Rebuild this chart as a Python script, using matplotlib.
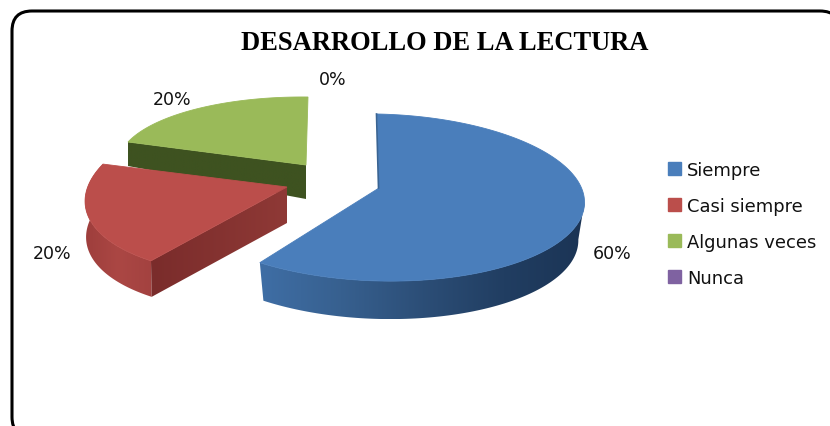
import numpy as np
import matplotlib
matplotlib.use('Agg')
import matplotlib.pyplot as plt
from matplotlib.patches import Polygon, Patch, FancyBboxPatch
from matplotlib.colors import LinearSegmentedColormap

categories = ['Siempre', 'Casi siempre', 'Algunas veces', 'Nunca']
values = [60, 20, 20, 0]
value_labels = ['60%', '20%', '20%', '0%']
title = 'DESARROLLO DE LA LECTURA'

top_colors = ['#4a7ebb', '#bb4e4b', '#9aba59', '#7f62a1']

# slice geometry in pixels, one entry per slice
# apex, ellipse offset from apex, radii, skew, wall height
apex = [(379, 189), (287, 188), (306, 166), (300, 170)]
centre_off = [(0, 9.5), (0, 0), (0, 0), (0, 0)]
radius = [(205.5, 83.5), (200.7, 88), (187.8, 68), (180, 70)]
skew = [(-2, 4), (22.3, -4.5), (2, 2.1), (0, 0)]
wall_h = [38, 36, 34, 0]
wall_tilt = [0, 0, 0.056, 0]
wall_scale = [0.97, 0.995, 1.0, 1.0]
# wall colours, left to right on the page
arc_shade = [['#3f6ea5', '#37608f', '#2c4e77', '#213e62', '#1b3455'],
             ['#9e3e3c', '#ab4744', '#a34240'], None, None]
cut_shade = [None, ['#7a2c2b', '#8f3936'], ['#3e5220', '#3e5220'], None]
label_pos = [(612, 254), (52, 254), (172, 100), (333, 80)]


def top_pt(i, th):
    a, b = radius[i]
    s, t = skew[i]
    x = a * np.sin(th) + s * np.cos(th) + centre_off[i][0]
    y = -b * np.cos(th) + t * np.sin(th) + centre_off[i][1]
    return x, y


def low_pt(i, x, y):
    return x * wall_scale[i], y + wall_h[i] + wall_tilt[i] * x


def shaded(pts, colors, z):
    # horizontal gradient clipped to a polygon
    pts = np.array(pts)
    cmap = LinearSegmentedColormap.from_list('wall', colors)
    x0, x1 = pts[:, 0].min(), pts[:, 0].max()
    y0, y1 = pts[:, 1].min(), pts[:, 1].max()
    im = ax.imshow(np.linspace(0, 1, 256)[None, :], cmap=cmap, extent=(x0, x1, y1, y0),
                   aspect='auto', zorder=z)
    clip = Polygon(pts, transform=ax.transData, fc='none', ec='none')
    ax.add_patch(clip)
    im.set_clip_path(clip)


fig = plt.figure(figsize=(8.30, 4.27), dpi=100)
ax = fig.add_axes([0, 0, 1, 1])
ax.axis('off')

ax.add_patch(FancyBboxPatch((12, 12), 828, 426, boxstyle='round,pad=0,rounding_size=20',
                            fc='white', ec='black', lw=2.2, zorder=0))

total = sum(values)
fracs = np.cumsum([0] + values) / total * 2 * np.pi

for i in [2, 1, 0]:
    th0, th1 = fracs[i], fracs[i + 1]
    ax0, ay0 = apex[i]
    z = 3 - i
    ths = np.linspace(th0, th1, 241)
    xs, ys = top_pt(i, ths)

    # outer wall, only the part that faces the viewer
    if arc_shade[i] is not None:
        keep = (np.cos(ths) < 0.0) | (i == 1)
        vx, vy = xs[keep], ys[keep]
        lx, ly = low_pt(i, vx, vy)
        pts = list(zip(ax0 + vx, ay0 + vy)) + list(zip(ax0 + lx, ay0 + ly))[::-1]
        shaded(pts, arc_shade[i], z)

    # cut face between the apex and the corner of the first edge
    if cut_shade[i] is not None:
        cx, cy = top_pt(i, th0)
        lx, ly = low_pt(i, cx, cy)
        pts = [(ax0, ay0), (ax0 + cx, ay0 + cy), (ax0 + lx, ay0 + ly), (ax0, ay0 + wall_h[i])]
        shaded(pts, cut_shade[i], z + 0.2)

    # top face
    pts = [(ax0, ay0)] + list(zip(ax0 + xs, ay0 + ys))
    ax.add_patch(Polygon(pts, fc=top_colors[i], ec=top_colors[i], lw=0.6, zorder=z + 0.5))

# dark sliver on the inner edge of the big slice
bx, by = top_pt(0, 0.0)
ax.plot([apex[0][0] - 0.5, apex[0][0] + bx - 0.5], [apex[0][1], apex[0][1] + by], color='#3a6493', lw=1.2, zorder=4)

for lab, (x, y) in zip(value_labels, label_pos):
    ax.text(x, y, lab, ha='center', va='center', fontsize=12.5, color='#111111', family='DejaVu Sans', zorder=8)

ax.text(445, 43, title, ha='center', va='center', fontsize=19.1, fontweight='bold',
        family='Liberation Serif', color='black', zorder=8)

handles = [Patch(fc=c, ec=c) for c in top_colors]
ax.set_xlim(0, 830)
ax.set_ylim(427, 0)
ax.legend(handles, categories, loc='upper left', bbox_to_anchor=(668, 162), bbox_transform=ax.transData,
          frameon=False, prop={'family': 'DejaVu Sans', 'size': 12.9}, handlelength=0.7, handleheight=0.7,
          handletextpad=0.35, labelspacing=1.0, borderpad=0, borderaxespad=0, labelcolor='#111111')

fig.savefig('out.png', dpi=100)
